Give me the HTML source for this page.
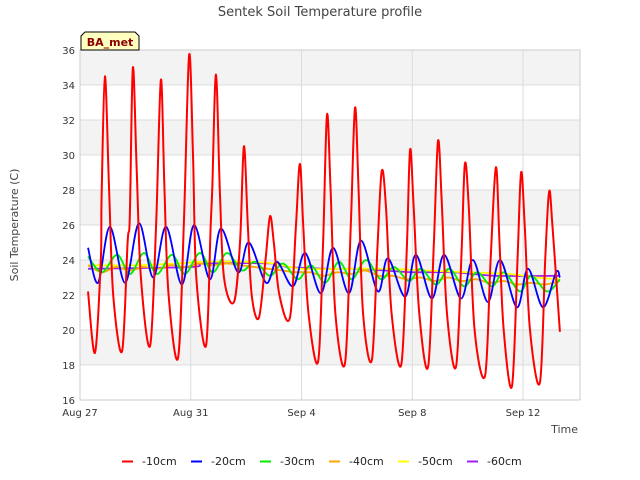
<!DOCTYPE html>
<html><head><meta charset="utf-8">
<style>
body{margin:0;background:#fff;}
svg{display:block;font-family:"DejaVu Sans","Liberation Sans",sans-serif;}
</style></head>
<body>
<svg id="chart" width="640" height="480" viewBox="0 0 640 480">
<rect x="0" y="0" width="640" height="480" fill="#fff"/>
<g id="bands"></g>
<g id="grid"></g>
<rect x="80" y="50" width="500" height="350" fill="none" stroke="#ccc"/>
<g id="yaxis"></g>
<g id="xaxis"></g>
<g id="series"></g>
<text x="320" y="16" text-anchor="middle" font-size="13" fill="#444">Sentek Soil Temperature profile</text>
<text x="18" y="225" text-anchor="middle" font-size="11" fill="#444" transform="rotate(-90 18 225)">Soil Temperature (C)</text>
<text x="578" y="433" text-anchor="end" font-size="11" fill="#444">Time</text>
<g>
<path d="M81,50 L81,36 L85,32 L135,32 L139,36 L139,50 Z" fill="#ffffc0" stroke="#000" stroke-width="1"/>
<text x="110" y="46" text-anchor="middle" font-size="11" font-weight="bold" fill="#8b0000">BA_met</text>
</g>
<g id="legend"></g>
</svg>
<script>
const yTicks=[16,18,20,22,24,26,28,30,32,34,36];
const xTickDays=[0,4,8,12,16];
const xTickLabels=["Aug 27","Aug 31","Sep 4","Sep 8","Sep 12"];
const seriesNames=["-10cm","-20cm","-30cm","-40cm","-50cm","-60cm"];
const seriesColors=["#ff0000","#0000ff","#00ee00","#ffa500","#ffff00","#a020f0"];
const s10=[[0.29,22.2],[0.54,18.7],[0.75,24],[0.78,27.6],[0.9,34.5],[1.05,28],[1.2,22],[1.52,18.8],[1.72,25],[1.8,26.5],[1.91,35.0],[2.05,29],[2.2,23],[2.53,19.1],[2.75,26],[2.92,34.3],[3.05,28],[3.2,22],[3.54,18.4],[3.75,26],[3.94,35.7],[4.08,30],[4.2,23],[4.55,19.1],[4.72,26],[4.78,28.3],[4.91,34.6],[5.05,28],[5.2,23],[5.56,21.6],[5.78,25],[5.92,30.5],[6.06,26],[6.2,22],[6.46,20.7],[6.7,24],[6.86,26.5],[7.0,25],[7.2,22],[7.58,20.7],[7.8,26],[7.94,29.5],[8.06,26],[8.25,21],[8.6,18.2],[8.78,25],[8.92,32.3],[9.05,28],[9.22,21],[9.57,18.1],[9.78,26],[9.93,32.7],[10.06,28],[10.22,21],[10.54,18.3],[10.75,25],[10.9,29.1],[11.05,27],[11.25,21],[11.6,18.0],[11.8,24.5],[11.92,30.3],[12.05,27],[12.25,21],[12.57,17.9],[12.78,25],[12.93,30.8],[13.06,27.5],[13.25,21],[13.58,17.9],[13.78,24.5],[13.9,29.5],[14.04,27],[14.25,20],[14.63,17.4],[14.83,24],[15.02,29.3],[15.15,25],[15.3,20],[15.6,16.8],[15.8,24],[15.93,29.0],[16.06,26],[16.25,20],[16.61,17.0],[16.8,24],[16.94,27.9],[17.06,26],[17.33,19.9]];
const s20=[[0.29,24.7],[0.65,22.7],[1.08,25.9],[1.63,22.7],[2.13,26.1],[2.64,23.0],[3.11,25.9],[3.68,22.6],[4.12,26.0],[4.69,22.9],[5.09,25.8],[5.71,23.3],[6.10,25.0],[6.72,22.7],[7.11,23.9],[7.69,22.5],[8.13,24.4],[8.70,22.1],[9.14,24.7],[9.71,22.1],[10.15,25.1],[10.76,22.2],[11.12,24.1],[11.74,21.9],[12.13,24.3],[12.71,21.8],[13.15,24.3],[13.76,21.8],[14.19,24.0],[14.73,21.6],[15.17,24.0],[15.78,21.3],[16.18,23.5],[16.72,21.3],[17.19,23.3],[17.33,23.0]];
const s30=[[0.29,24.2],[0.79,23.3],[1.34,24.3],[1.81,23.2],[2.31,24.4],[2.78,23.2],[3.32,24.3],[3.79,23.2],[4.33,24.4],[4.80,23.3],[5.31,24.4],[5.85,23.4],[6.32,23.9],[6.86,23.1],[7.33,23.8],[7.87,22.9],[8.34,23.7],[8.85,22.7],[9.35,23.9],[9.82,22.9],[10.33,24.0],[10.87,22.9],[11.34,23.6],[11.88,22.8],[12.31,23.5],[12.86,22.6],[13.33,23.5],[13.87,22.5],[14.34,23.3],[14.88,22.5],[15.31,23.3],[15.89,22.2],[16.29,23.1],[16.87,22.2],[17.33,22.9]];
const s40=[[0.29,23.7],[0.8,23.3],[1.3,23.6],[1.8,23.4],[2.3,23.6],[2.8,23.5],[3.3,23.7],[3.8,23.6],[4.3,23.8],[4.8,23.7],[5.3,23.8],[5.8,23.7],[6.3,23.6],[6.8,23.5],[7.3,23.4],[7.8,23.3],[8.3,23.3],[8.8,23.1],[9.3,23.3],[9.8,23.2],[10.3,23.4],[10.8,23.1],[11.3,23.1],[11.8,22.9],[12.3,23.0],[12.8,22.8],[13.3,23.0],[13.8,22.8],[14.3,22.9],[14.8,22.7],[15.3,22.8],[15.8,22.6],[16.3,22.7],[16.8,22.6],[17.33,22.8]];
const s50=[[0.29,23.7],[2,23.7],[3.5,23.8],[4.5,23.9],[6,23.9],[7,23.8],[8,23.5],[9.5,23.5],[11,23.5],[12.5,23.4],[14,23.3],[15.5,23.2],[16.5,23.0],[17.33,22.9]];
const s60=[[0.29,23.5],[4,23.6],[4.5,23.8],[7.0,23.8],[7.5,23.6],[9,23.5],[10,23.5],[11,23.4],[12,23.3],[13.5,23.3],[15,23.1],[17.33,23.1]];

const NS="http://www.w3.org/2000/svg";
const X0=80,X1=580,Y0=50,Y1=400,dayPx=27.69,vMin=16,vMax=36;
function xs(d){return X0+d*dayPx;}
function ys(v){return Y1-(v-vMin)/(vMax-vMin)*(Y1-Y0);}
function mk(tag,attrs,parent){const e=document.createElementNS(NS,tag);for(const k in attrs)e.setAttribute(k,attrs[k]);parent.appendChild(e);return e;}
const bands=document.getElementById('bands'),grid=document.getElementById('grid'),ya=document.getElementById('yaxis'),xa=document.getElementById('xaxis');
for(let i=0;i<yTicks.length-1;i++){
  if(i%2===1){const r=mk('rect',{x:X0,y:ys(yTicks[i+1]),width:X1-X0,height:ys(yTicks[i])-ys(yTicks[i+1]),fill:'#f3f3f3'},bands);
  
  }
}
yTicks.forEach(v=>{
  const l=mk('line',{x1:X0,x2:X1,y1:ys(v),y2:ys(v),stroke:'#dcdcdc'},grid);
  
  
  const t=mk('text',{x:X0-5,y:ys(v)+4,'text-anchor':'end','font-size':'10',fill:'#333'},ya);
  t.textContent=v;
  
  
});
xTickDays.forEach((d,i)=>{
  const l=mk('line',{x1:xs(d),x2:xs(d),y1:Y0,y2:Y1,stroke:'#dcdcdc'},grid);
  
  
  const t=mk('text',{x:xs(d),y:Y1+16,'text-anchor':'middle','font-size':'10',fill:'#333'},xa);
  t.textContent=xTickLabels[i];
  
  
});
function pathFor(pts){
  const p=pts.map(a=>[xs(a[0]),ys(a[1])]);
  let d='M'+p[0][0].toFixed(1)+','+p[0][1].toFixed(1);
  for(let i=0;i<p.length-1;i++){
    const p0=p[Math.max(0,i-1)],p1=p[i],p2=p[i+1],p3=p[Math.min(p.length-1,i+2)];
    const c1=[p1[0]+(p2[0]-p0[0])/6,p1[1]+(p2[1]-p0[1])/6];
    const c2=[p2[0]-(p3[0]-p1[0])/6,p2[1]-(p3[1]-p1[1])/6];
    d+='C'+c1[0].toFixed(1)+','+c1[1].toFixed(1)+' '+c2[0].toFixed(1)+','+c2[1].toFixed(1)+' '+p2[0].toFixed(1)+','+p2[1].toFixed(1);
  }
  return d;
}
const allSeries=[s10,s20,s30,s40,s50,s60];
const sg=document.getElementById('series');
[5,4,3,2,1,0].forEach(i=>{
  const p=mk('path',{d:pathFor(allSeries[i]),fill:'none',stroke:seriesColors[i],'stroke-width':i===0?2:1.8,'stroke-linejoin':'round'},sg);
  
  
});
const lg=document.getElementById('legend');
seriesNames.forEach((n,i)=>{
  const g=mk('g',{},lg);
  
  
  const bx=122+i*69;
  mk('line',{x1:bx,x2:bx+11,y1:461.5,y2:461.5,stroke:seriesColors[i],'stroke-width':2},g);
  const t=mk('text',{x:bx+20,y:465,'font-size':'11',fill:'#222'},g);
  t.textContent=n;
});
</script>
</body></html>
